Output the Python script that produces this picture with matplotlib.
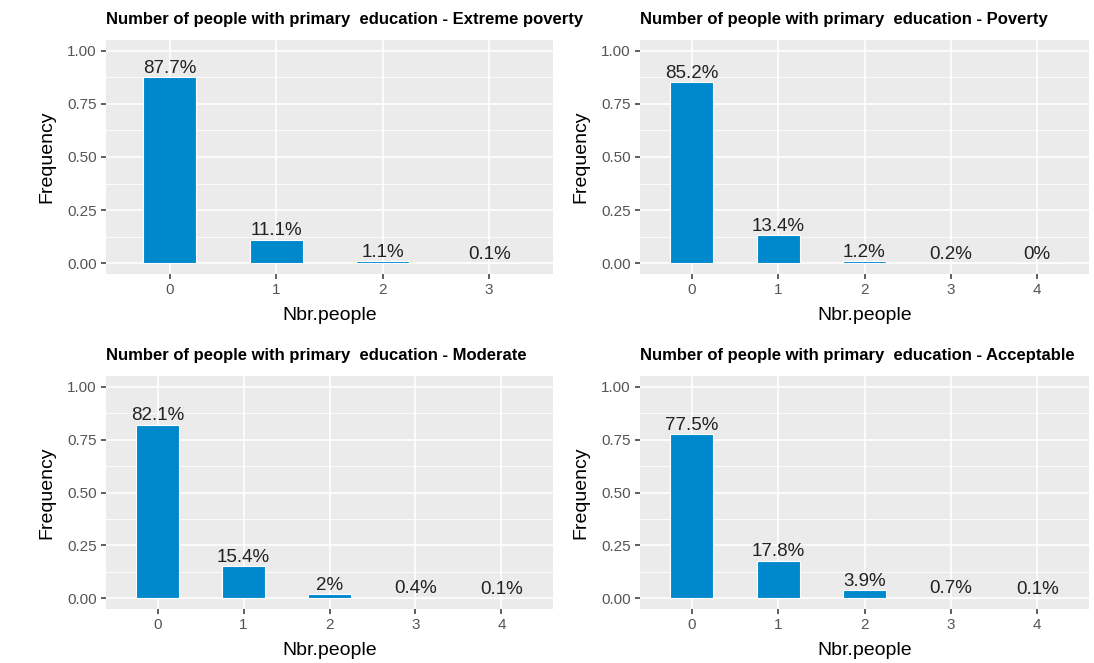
import numpy as np
import matplotlib
matplotlib.use('Agg')
from matplotlib import pyplot as plt

plt.rcParams['font.family'] = ['Liberation Sans', 'DejaVu Sans']

titles = ['Number of people with primary  education - Extreme poverty',
          'Number of people with primary  education - Poverty',
          'Number of people with primary  education - Moderate',
          'Number of people with primary  education - Acceptable']

cats_extreme = ['0', '1', '2', '3']
freq_extreme = [0.877, 0.111, 0.011, 0.001]

cats_poverty = ['0', '1', '2', '3', '4']
freq_poverty = [0.852, 0.134, 0.012, 0.002, 0.0]

cats_moderate = ['0', '1', '2', '3', '4']
freq_moderate = [0.821, 0.154, 0.020, 0.004, 0.001]

cats_accept = ['0', '1', '2', '3', '4']
freq_accept = [0.775, 0.178, 0.039, 0.007, 0.001]

yticks = [0.0, 0.25, 0.5, 0.75, 1.0]
ytick_labels = ['0.00', '0.25', '0.50', '0.75', '1.00']

W, H = 1094, 663
fig = plt.figure(figsize=(W / 100, H / 100), dpi=100)

# panel boxes in pixels: left, top, right, bottom
boxes = [(106, 40, 553, 274), (640, 40, 1089, 274),
         (106, 376, 553, 609), (640, 376, 1089, 609)]
data = [(cats_extreme, freq_extreme), (cats_poverty, freq_poverty),
        (cats_moderate, freq_moderate), (cats_accept, freq_accept)]


def fmt_pct(v):
    s = '%.1f' % (v * 100)
    if s.endswith('.0'):
        s = s[:-2]
    return s + '%'


for (l, t, r, b), (cats, freq), title in zip(boxes, data, titles):
    ax = fig.add_axes([l / W, 1 - b / H, (r - l) / W, (b - t) / H])
    ax.set_facecolor('#EBEBEB')
    x = np.arange(len(cats))
    ax.bar(x, freq, width=0.5, color='#0088CC', edgecolor='white', linewidth=0.8, zorder=3)
    for xi, v in zip(x, freq):
        ax.text(xi, v + 0.02, fmt_pct(v), ha='center', va='baseline',
                fontsize=13.5, color='#222222', zorder=4)
    ax.set_xlim(-0.6, len(cats) - 0.4)
    ax.set_ylim(-0.05, 1.05)
    ax.set_xticks(x)
    ax.set_xticklabels(cats)
    ax.set_yticks(yticks)
    ax.set_yticklabels(ytick_labels)
    ax.set_yticks([0.125, 0.375, 0.625, 0.875], minor=True)
    ax.grid(which='major', color='white', linewidth=1.2, zorder=0)
    ax.grid(which='minor', axis='y', color='white', linewidth=0.6, zorder=0)
    ax.set_axisbelow(True)
    for s in ax.spines.values():
        s.set_visible(False)
    ax.tick_params(which='major', length=3.5, width=1.1, color='#333333',
                   labelcolor='#555555', labelsize=11, pad=3)
    ax.tick_params(which='minor', length=0)
    ax.set_xlabel('Nbr.people', fontsize=14, color='black', labelpad=7)
    ax.set_ylabel('Frequency', fontsize=14, color='black', labelpad=8.5)
    ax.set_title(title, loc='left', fontsize=12, fontweight='bold', pad=11.5, x=0.0)

fig.savefig('out.png', dpi=100)
